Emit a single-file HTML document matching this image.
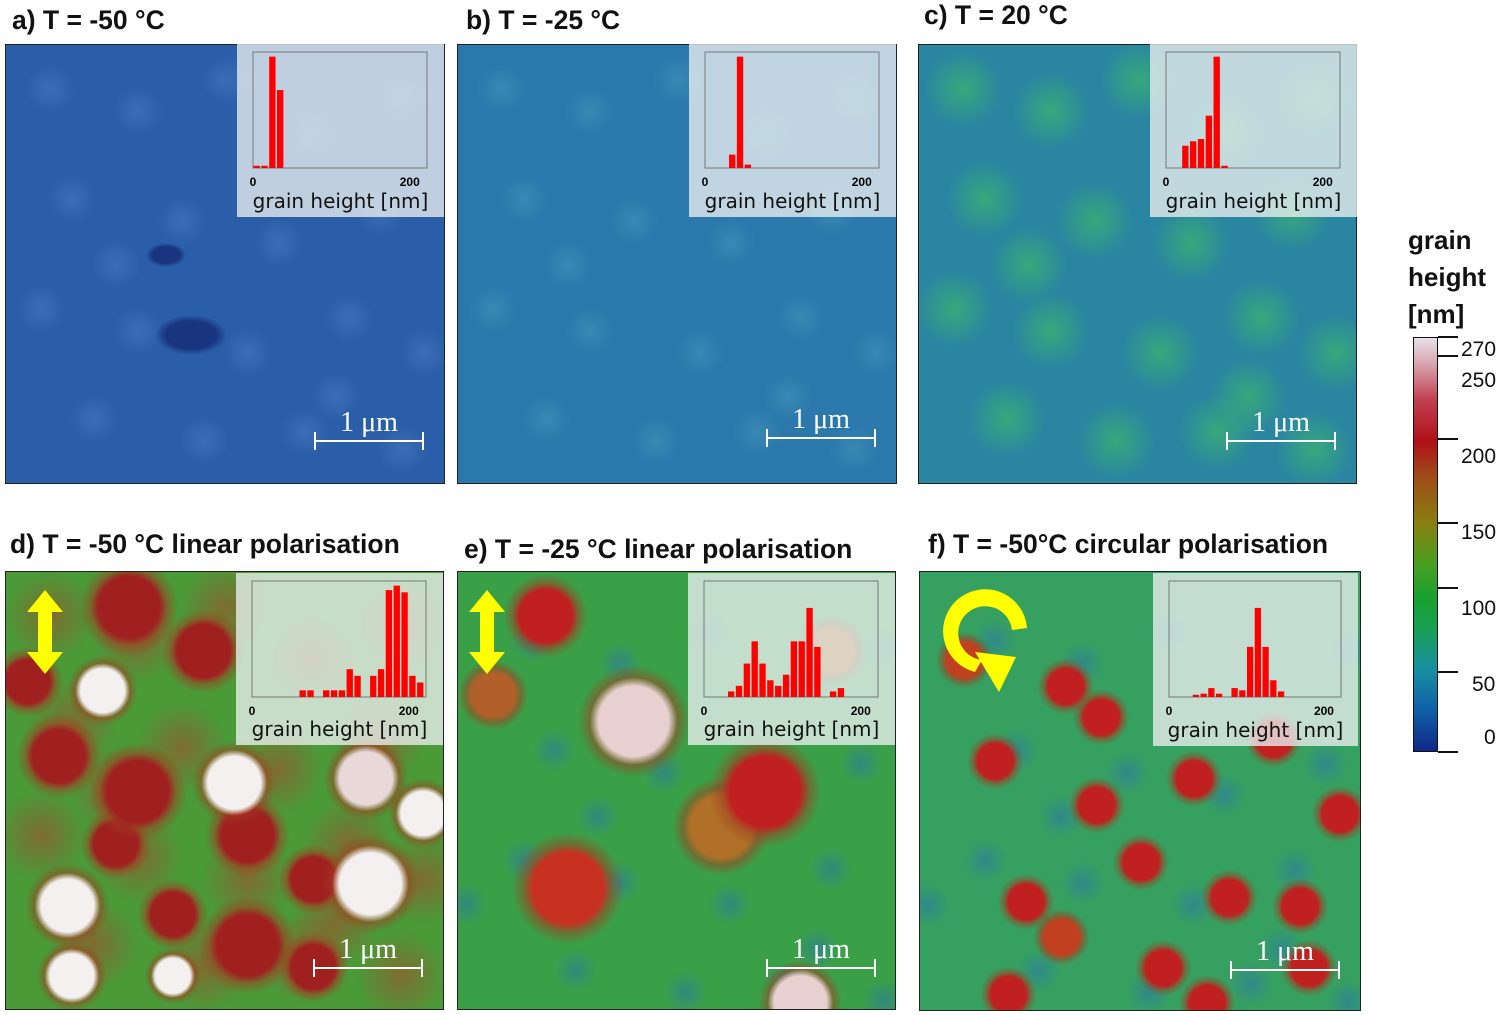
<!DOCTYPE html>
<html><head><meta charset="utf-8">
<style>
body{margin:0;width:1500px;height:1015px;background:#fff;position:relative;overflow:hidden;font-family:"Liberation Sans",sans-serif}
.title{position:absolute;font-weight:bold;font-size:26.5px;color:#111;white-space:nowrap}
.map{position:absolute;overflow:hidden;border:1px solid #222;box-sizing:border-box}
.inset{position:absolute;background:rgba(235,240,240,0.78)}
.inset .lbl{position:absolute;left:0;right:0;bottom:4px;text-align:center;font-size:20px;color:#111;font-family:"DejaVu Sans",sans-serif}
.scale{position:absolute;color:#fff;font-size:28px;text-align:center;font-family:"Liberation Serif",serif}
.scale .bar{position:absolute;left:0;right:0;bottom:0;height:2px;background:#fff}
.scale .bar:before,.scale .bar:after{content:"";position:absolute;top:-8px;width:2px;height:18px;background:#fff}
.scale .bar:before{left:0}.scale .bar:after{right:0}
.cbl{position:absolute;font-size:21px;color:#111}
</style></head><body>
<div id="root"></div>
<div class="title" style="left:1408px;top:222px;font-size:26px;line-height:37px">grain<br>height<br>[nm]</div>
<div style="position:absolute;left:1413px;top:337px;width:25px;height:415px;border:1px solid #111;box-sizing:border-box;background:linear-gradient(to bottom,#e8e0e8 0%,#d8a8b0 6%,#c04050 15%,#b01018 25%,#a04818 33%,#888010 45%,#48a020 55%,#18a030 63%,#18a050 70%,#1890a0 80%,#1060a8 90%,#102888 100%)"></div>
<div id="cb"></div>
<svg style="position:absolute;left:0;top:0" width="1500" height="1015">
<path d="M1027,628 A42,42 0 1 0 975,672 L982,660 A27,27 0 1 1 1012,630 Z" fill="#ffff00"/>
<polygon points="975,652 1016,657 999,692" fill="#ffff00"/>
</svg>
<script>
// histogram data (normalised counts per 10 nm bin)
const binWidthNm = 10;
const axisMaxNm = 222;
const histA = [0.02,0.02,1.0,0.7];
const histB = [0,0,0,0.12,1.0,0.03];
const histC = [0,0,0.2,0.24,0.26,0.47,1.0,0.02];
const histD = [0,0,0,0,0,0,0.06,0.06,0,0.06,0.06,0.06,0.25,0.19,0,0.19,0.25,0.96,1.0,0.94,0.19,0.13];
const histE = [0,0,0,0.05,0.1,0.3,0.5,0.3,0.15,0.1,0.2,0.5,0.5,0.8,0.45,0,0.05,0.08];
const histF = [0,0,0,0.02,0.03,0.08,0.03,0,0.08,0.06,0.45,0.8,0.45,0.15,0.05];
const cbTicks = [270,250,200,150,100,50,0];
const cbTickY = {270:337,250:356,200:439,150:523,100:588,50:672,0:752};
const cbLabelY = {270:350,250:381,200:457,150:533,100:609,50:685,0:738};

const panels = [
 {id:'a',t:'a)  T = -50 °C',tx:12,ty:5,x:5,y:44,w:440,h:440,bg:'#2b5ea8',hist:histA,ix:237,iy:44,iw:207,ih:173,sx:314,sy:425,blobs:[[160,210,20,12,'#1a3580'],[185,290,36,20,'#1a3580']],tex:'rgba(90,140,210,0.35)'},
 {id:'b',t:'b) T = -25 °C',tx:466,ty:5,x:457,y:44,w:440,h:440,bg:'#2b78ad',hist:histB,ix:689,iy:44,iw:207,ih:173,sx:766,sy:422,blobs:[],tex:'rgba(80,170,190,0.35)'},
 {id:'c',t:'c) T = 20 °C',tx:924,ty:0,x:918,y:44,w:439,h:440,bg:'#2a86a0',hist:histC,ix:1150,iy:44,iw:207,ih:173,sx:1226,sy:425,blobs:[],tex:'rgba(60,180,110,0.75)'},
 {id:'d',t:'d) T = -50 °C linear polarisation',tx:10,ty:529,x:5,y:571,w:439,h:439,bg:'#4a9a38',hist:histD,ix:236,iy:573,iw:207,ih:172,sx:313,sy:952,blobs:[],tex:'red'},
 {id:'e',t:'e) T = -25 °C linear polarisation',tx:464,ty:534,x:457,y:571,w:439,h:439,bg:'#3aa048',hist:histE,ix:688,iy:573,iw:207,ih:172,sx:766,sy:952,blobs:[],tex:'e'},
 {id:'f',t:'f) T = -50°C circular polarisation',tx:928,ty:529,x:919,y:571,w:442,h:440,bg:'#36a060',hist:histF,ix:1153,iy:573,iw:205,ih:173,sx:1230,sy:954,blobs:[],tex:'f'}
];
// decorative texture blob positions (relative fractions)
const texPts=[[.1,.1],[.3,.15],[.5,.08],[.7,.2],[.9,.12],[.15,.35],[.4,.4],[.62,.45],[.85,.38],[.08,.6],[.3,.65],[.55,.7],[.78,.62],[.95,.7],[.2,.85],[.45,.9],[.68,.88],[.9,.92],[.25,.5],[.75,.8]];
const dBlobs=[[.28,.08,.07,'#a02020'],[.45,.18,.06,'#a02020'],[.22,.27,.05,'#f4f0f0'],[.12,.42,.06,'#a02020'],[.3,.5,.07,'#a02020'],[.52,.48,.06,'#f4f0f0'],[.55,.6,.06,'#a02020'],[.82,.47,.06,'#e8d8d8'],[.14,.76,.06,'#f4f0f0'],[.38,.78,.05,'#a02020'],[.55,.85,.07,'#a02020'],[.83,.71,.07,'#f4f0f0'],[.15,.92,.05,'#f4f0f0'],[.38,.92,.04,'#f4f0f0'],[.7,.9,.05,'#a02020'],[.05,.25,.05,'#a02020'],[.95,.55,.05,'#f4f0f0'],[.7,.7,.05,'#a02020'],[.25,.62,.05,'#a02020']];
const eBlobs=[[.2,.1,.06,'#c02020'],[.4,.34,.08,'#e8d0d0'],[.7,.5,.08,'#c02020'],[.25,.72,.08,'#c83020'],[.6,.58,.07,'#b07028'],[.78,.98,.06,'#e8d0d0'],[.08,.28,.05,'#b06028'],[.85,.18,.05,'#b07028']];
const fBlobs=[[.33,.26,.04,'#c02020'],[.41,.33,.04,'#c02020'],[.17,.43,.04,'#c02020'],[.4,.53,.04,'#c02020'],[.62,.47,.04,'#c02020'],[.8,.38,.04,'#c02020'],[.24,.75,.04,'#c02020'],[.5,.66,.04,'#c02020'],[.7,.74,.04,'#c02020'],[.55,.9,.04,'#c02020'],[.2,.96,.04,'#c02020'],[.65,.98,.04,'#c02020'],[.86,.76,.04,'#c02020'],[.88,.9,.04,'#c02020'],[.1,.2,.04,'#c04020'],[.95,.55,.04,'#c02020'],[.32,.83,.04,'#c04020']];

const root=document.getElementById('root');
panels.forEach(p=>{
  const t=document.createElement('div');
  t.className='title';t.style.left=p.tx+'px';t.style.top=p.ty+'px';t.textContent=p.t;
  
  
  root.appendChild(t);
  const m=document.createElement('div');
  m.className='map';
  
  
  Object.assign(m.style,{left:p.x+'px',top:p.y+'px',width:p.w+'px',height:p.h+'px',background:p.bg});
  let grads=[];
  const list=p.id==='d'?dBlobs:p.id==='e'?eBlobs:p.id==='f'?fBlobs:null;
  if(list){
    list.forEach(b=>{const r=b[2]*p.w;grads.push(`radial-gradient(circle ${r*1.6}px at ${b[0]*p.w}px ${b[1]*p.h}px, ${b[3]} 0, ${b[3]} ${r}px, rgba(160,60,30,0.5) ${r*1.25}px, transparent ${r*1.6}px)`);});
    if(p.id==='d'){texPts.forEach(q=>grads.push(`radial-gradient(circle 45px at ${q[0]*p.w}px ${q[1]*p.h}px, rgba(170,70,40,0.55), transparent)`));}
    if(p.id!=='d'){texPts.forEach(q=>grads.push(`radial-gradient(circle 22px at ${(q[0]*p.w+30)%p.w}px ${(q[1]*p.h+25)%p.h}px, rgba(40,110,190,0.45), transparent)`));}
  } else {
    p.blobs.forEach(b=>grads.push(`radial-gradient(ellipse ${b[2]}px ${b[3]}px at ${b[0]}px ${b[1]}px, ${b[4]} 70%, transparent 100%)`));
    texPts.forEach(q=>grads.push(`radial-gradient(circle ${p.id==='c'?38:25}px at ${q[0]*p.w}px ${q[1]*p.h}px, ${p.tex}, transparent)`));
  }
  m.style.backgroundImage=grads.join(',');
  root.appendChild(m);
  const ins=document.createElement('div');
  ins.className='inset';
  
  
  Object.assign(ins.style,{left:p.ix+'px',top:p.iy+'px',width:p.iw+'px',height:p.ih+'px'});
  const pw=p.iw-33, ph=116, px0=16, py0=8;
  const xs=v=>px0+v/axisMaxNm*pw;
  const ys=v=>py0+ph-v*ph*0.96;
  let svg=`<svg width="${p.iw}" height="${p.ih}" style="position:absolute;left:0;top:0"><rect x="${px0}" y="${py0}" width="${pw}" height="${ph}" fill="none" stroke="#777" stroke-width="1"/>`;
  p.hist.forEach((v,i)=>{if(v>0){const x=xs(i*binWidthNm);svg+=`<rect x="${x+0.5}" y="${ys(v)}" width="${xs(binWidthNm)-px0-1.5}" height="${py0+ph-ys(v)}" fill="#ff0000"/>`;}});
  svg+=`<text x="${xs(0)}" y="${py0+ph+18}" font-size="12" font-weight="bold" font-family="Liberation Sans" text-anchor="middle">0</text>`;
  svg+=`<text x="${xs(200)}" y="${py0+ph+18}" font-size="12" font-weight="bold" font-family="Liberation Sans" text-anchor="middle">200</text></svg>`;
  ins.innerHTML=svg+'<div class="lbl">grain height [nm]</div>';
  root.appendChild(ins);
  const s=document.createElement('div');
  s.className='scale';
  
  
  Object.assign(s.style,{left:p.sx+'px',top:(p.sy-18)+'px',width:'110px',height:'46px'});
  s.innerHTML='<div style="position:absolute;left:0;right:0;top:0">1 μm</div><div class="bar" style="bottom:11px"></div>';
  root.appendChild(s);
});
[[45,630],[487,630]].forEach(a=>{
  const d=document.createElement('div');
  
  
  d.style.cssText=`position:absolute;left:${a[0]-18}px;top:${a[1]-40}px`;
  d.innerHTML='<svg width="36" height="84"><polygon points="18,0 36,22 25,22 25,62 36,62 18,84 0,62 11,62 11,22 0,22" fill="#ffff00"/></svg>';
  root.appendChild(d);
});
const cb=document.getElementById('cb');
cbTicks.forEach(v=>{
  const y=cbTickY[v];
  const tk=document.createElement('div');
  
  
  tk.style.cssText=`position:absolute;left:1438px;top:${y-1}px;width:20px;height:2px;background:#111`;
  cb.appendChild(tk);
  const l=document.createElement('div');
  l.className='cbl';
  
  
  l.style.left=(v===0?1484:v>=100?1461:1472)+'px';l.style.top=(cbLabelY[v]-12)+'px';
  l.textContent=v;
  cb.appendChild(l);
});
</script>
</body></html>
